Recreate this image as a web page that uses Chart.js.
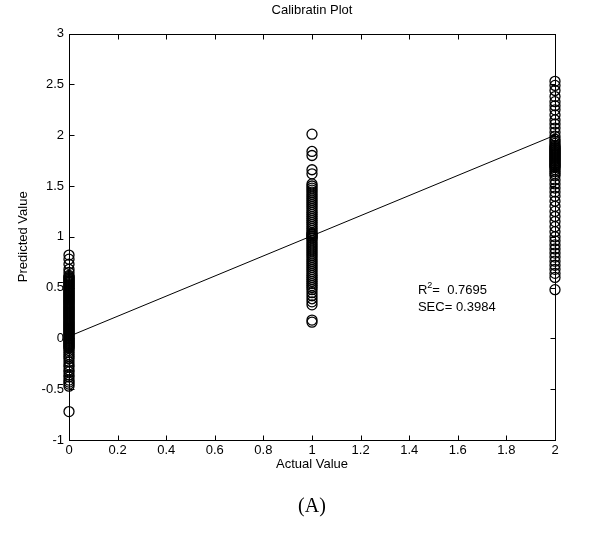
<!DOCTYPE html>
<html>
<head>
<meta charset="utf-8">
<script src="https://cdn.jsdelivr.net/npm/chart.js@4.4.1/dist/chart.umd.min.js"></script>
<style>
  html, body { margin: 0; padding: 0; background: #fff; }
  #wrap { width: 597px; height: 537px; }
</style>
</head>
<body>
<div id="wrap"><canvas id="myChart" width="597" height="537"></canvas></div>
<script>
// predicted values for each actual class (0, 1, 2)
const actual0 = [0.82, 0.78, 0.73, 0.68, 0.65, 0.62, 0.61, 0.6, 0.59, 0.58, 0.57, 0.56, 0.55, 0.54,
  0.53, 0.52, 0.51, 0.5, 0.49, 0.48, 0.47, 0.46, 0.45, 0.44, 0.43, 0.42, 0.41, 0.4, 0.39, 0.38, 0.37,
  0.36, 0.35, 0.34, 0.33, 0.32, 0.31, 0.3, 0.29, 0.28, 0.27, 0.26, 0.25, 0.24, 0.23, 0.22, 0.21, 0.2,
  0.19, 0.18, 0.17, 0.16, 0.15, 0.14, 0.13, 0.12, 0.11, 0.1, 0.09, 0.08, 0.07, 0.06, 0.05, 0.04, 0.03,
  0.02, 0.01, 0.0, -0.01, -0.02, -0.03, -0.04, -0.05, -0.06, -0.07, -0.08, -0.09, -0.1, -0.12, -0.14,
  -0.16, -0.18, -0.2, -0.23, -0.26, -0.28, -0.31, -0.33, -0.36, -0.38, -0.41, -0.43, -0.45, -0.47, -0.72];
const actual1 = [2.01, 1.84, 1.8, 1.66, 1.62, 1.52, 1.5, 1.48, 1.46, 1.44, 1.42, 1.4, 1.38, 1.36,
  1.34, 1.32, 1.3, 1.28, 1.26, 1.24, 1.22, 1.2, 1.18, 1.16, 1.14, 1.12, 1.1, 1.08, 1.06, 1.04, 1.03,
  1.02, 1.01, 1.0, 0.99, 0.98, 0.96, 0.94, 0.92, 0.9, 0.88, 0.86, 0.84, 0.82, 0.8, 0.78, 0.76, 0.74,
  0.72, 0.7, 0.68, 0.66, 0.64, 0.62, 0.6, 0.58, 0.56, 0.54, 0.52, 0.5, 0.48, 0.45, 0.42, 0.39, 0.36,
  0.33, 0.18, 0.16];
const actual2 = [2.53, 2.49, 2.44, 2.38, 2.33, 2.29, 2.25, 2.2, 2.15, 2.11, 2.07, 2.03, 1.99, 1.96,
  1.94, 1.92, 1.9, 1.89, 1.88, 1.87, 1.86, 1.85, 1.84, 1.83, 1.82, 1.81, 1.8, 1.79, 1.78, 1.77, 1.76,
  1.75, 1.74, 1.73, 1.72, 1.71, 1.7, 1.69, 1.68, 1.66, 1.64, 1.62, 1.6, 1.56, 1.52, 1.48, 1.44, 1.4,
  1.35, 1.3, 1.25, 1.2, 1.15, 1.1, 1.05, 1.0, 0.96, 0.92, 0.88, 0.84, 0.8, 0.76, 0.72, 0.68, 0.64,
  0.6, 0.48];

// regression line end points
const fitX = [0, 2];
const fitY = [0.02, 2.0];

const r2Text = "0.7695";
const secText = "0.3984";

const points = []
  .concat(actual0.map(v => ({ x: 0, y: v })))
  .concat(actual1.map(v => ({ x: 1, y: v })))
  .concat(actual2.map(v => ({ x: 2, y: v })));

const font = "Liberation Sans, Arial, sans-serif";
const fmt = v => String(Number(v.toFixed(2)));

// matlab style box, inward ticks and the stats text
const matlabAxes = {
  id: "matlabAxes",
  afterDraw(chart) {
    const { ctx, chartArea: a, scales: { x, y } } = chart;
    ctx.save();
    ctx.strokeStyle = "#000";
    ctx.lineWidth = 1;
    const L = Math.round(a.left) + 0.5, R = Math.round(a.right) + 0.5;
    const T = Math.round(a.top) + 0.5, B = Math.round(a.bottom) + 0.5;
    ctx.strokeRect(L, T, R - L, B - T);
    ctx.beginPath();
    x.ticks.forEach(t => {
      const px = Math.round(x.getPixelForValue(t.value)) + 0.5;
      ctx.moveTo(px, B); ctx.lineTo(px, B - 5);
      ctx.moveTo(px, T); ctx.lineTo(px, T + 5);
    });
    y.ticks.forEach(t => {
      const py = Math.round(y.getPixelForValue(t.value)) + 0.5;
      ctx.moveTo(L, py); ctx.lineTo(L + 5, py);
      ctx.moveTo(R, py); ctx.lineTo(R - 5, py);
    });
    ctx.stroke();

    // R^2 and SEC
    ctx.fillStyle = "#000";
    ctx.textBaseline = "middle";
    ctx.textAlign = "left";
    const tx = x.getPixelForValue(1.436);
    const ty1 = y.getPixelForValue(0.47);
    const ty2 = y.getPixelForValue(0.3);
    ctx.font = "13px " + font;
    ctx.fillText("R", tx, ty1);
    const rw = ctx.measureText("R").width;
    ctx.font = "9px " + font;
    ctx.fillText("2", tx + rw, ty1 - 5);
    const sw = ctx.measureText("2").width;
    ctx.font = "13px " + font;
    ctx.fillText("=  " + r2Text, tx + rw + sw, ty1);
    ctx.fillText("SEC= " + secText, tx, ty2);
    ctx.restore();
  }
};

const config = {
  type: "scatter",
  data: {
    datasets: [
      {
        data: points,
        pointStyle: "circle",
        pointRadius: 5,
        pointHoverRadius: 5,
        borderWidth: 1.3,
        borderColor: "#000",
        backgroundColor: "rgba(0,0,0,0)",
        clip: false,
      },
      {
        type: "line",
        data: fitX.map((v, i) => ({ x: v, y: fitY[i] })),
        borderColor: "#000",
        borderWidth: 1,
        pointRadius: 0,
        fill: false,
      },
    ],
  },
  options: {
    responsive: false,
    animation: false,
    layout: { padding: { left: 0, right: 42, top: 0, bottom: 0 } },
    plugins: {
      legend: { display: false },
      tooltip: { enabled: false },
      title: {
        display: true,
        text: "Calibratin Plot",
        fullSize: false,
        color: "#000",
        font: { family: font, size: 13, weight: "normal" },
        padding: { top: 3, bottom: 15 },
      },
      subtitle: {
        display: true,
        text: "(A)",
        position: "bottom",
        fullSize: false,
        color: "#000",
        font: { family: "Liberation Serif, Times New Roman, serif", size: 20, weight: "normal" },
        padding: { top: 19, bottom: 18 },
      },
    },
    scales: {
      x: {
        type: "linear",
        min: 0,
        max: 2,
        ticks: { stepSize: 0.2, color: "#000", font: { family: font, size: 13 }, padding: 3, maxRotation: 0, callback: fmt },
        grid: { display: false, drawTicks: false },
        border: { display: false },
        title: {
          display: true,
          text: "Actual Value",
          color: "#000",
          font: { family: font, size: 13 },
          padding: { top: 0, bottom: 4 },
        },
        afterFit(scale) { scale.height = 36; },
      },
      y: {
        type: "linear",
        min: -1,
        max: 3,
        ticks: { stepSize: 0.5, color: "#000", font: { family: font, size: 13 }, padding: 5, callback: fmt },
        grid: { display: false, drawTicks: false },
        border: { display: false },
        title: {
          display: true,
          text: "Predicted Value",
          color: "#000",
          font: { family: font, size: 13 },
          padding: { top: 16, bottom: 0 },
        },
        afterFit(scale) { scale.width = 69; },
      },
    },
  },
  plugins: [matlabAxes],
};

const myChart = new Chart(document.getElementById("myChart").getContext("2d"), config);
</script>
</body>
</html>
